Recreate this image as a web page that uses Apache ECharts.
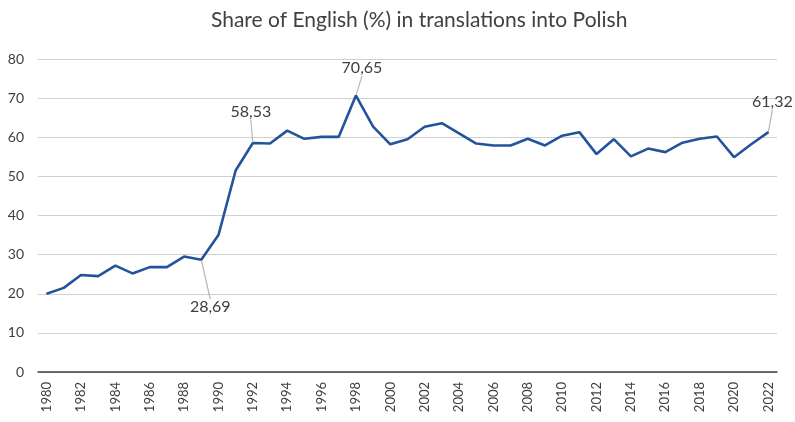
<!DOCTYPE html>
<html>
<head>
<meta charset="utf-8">
<script src="https://cdn.jsdelivr.net/npm/echarts@6/dist/echarts.min.js"></script>
<style>
  html, body { margin: 0; padding: 0; background: #fff; }
  #main { width: 795px; height: 422px; }
</style>
</head>
<body>
<div id="main"></div>
<script>
// years 1980 - 2022
const years = [];
for (let y = 1980; y <= 2022; y++) years.push(String(y));

// share of English (%)
const shares = [
  20.0, 21.5, 24.8, 24.5, 27.2, 25.2, 26.8, 26.8, 29.5, 28.69,
  35.0, 51.5, 58.53, 58.4, 61.7, 59.6, 60.1, 60.1, 70.65, 62.7,
  58.2, 59.5, 62.7, 63.6, 61.0, 58.4, 57.9, 57.9, 59.6, 57.9,
  60.4, 61.3, 55.7, 59.5, 55.1, 57.1, 56.2, 58.6, 59.6, 60.2,
  54.9, 58.2, 61.32
];

// years that carry a value label
const labelledYears = ['1989', '1992', '1998', '2022'];

const chart = echarts.init(document.getElementById('main'));

const seriesData = shares.map((v, i) => {
  if (labelledYears.indexOf(years[i]) < 0) return v;
  return {
    value: v,
    label: {
      show: true,
      position: years[i] === '1989' ? 'bottom' : 'top'
    }
  };
});

// label offsets (dx, dy) per year
const shift = {
  '1989': [9, 34],
  '1992': [-2, -18],
  '1998': [6, -14],
  '2022': [4, -17]
};

const option = {
  animation: false,
  title: {
    text: 'Share of English (%) in translations into Polish',
    left: 206,
    top: 5,
    textStyle: {
      fontFamily: 'Lato',
      fontSize: 21,
      fontWeight: 'normal',
      color: '#404040'
    }
  },
  grid: {
    left: 38,
    right: 18,
    top: 59,
    bottom: 50,
    containLabel: false
  },
  xAxis: {
    type: 'category',
    data: years,
    boundaryGap: true,
    axisLine: { lineStyle: { color: '#404040', width: 1.5 } },
    axisTick: { show: false },
    axisLabel: {
      rotate: 90,
      interval: 1,
      margin: 10,
      fontFamily: 'Lato',
      fontSize: 13,
      color: '#404040'
    }
  },
  yAxis: {
    type: 'value',
    min: 0,
    max: 80,
    interval: 10,
    axisLine: { show: false },
    axisTick: { show: false },
    splitLine: { lineStyle: { color: '#d0d0d0', width: 1.2 } },
    axisLabel: {
      margin: 14,
      fontFamily: 'Lato',
      fontSize: 14,
      color: '#404040'
    }
  },
  series: [
    {
      name: 'English',
      type: 'line',
      data: seriesData,
      symbol: 'circle',
      symbolSize: 1,
      showSymbol: true,
      lineStyle: { color: '#23539b', width: 2.6 },
      itemStyle: { color: '#23539b' },
      label: {
        fontFamily: 'Lato',
        fontSize: 16,
        color: '#404040',
        formatter: (p) => p.value.toFixed(2).replace('.', ',')
      },
      labelLine: {
        show: true,
        lineStyle: { color: '#b8b8b8', width: 1.2 }
      },
      labelLayout: (params) => {
        const s = shift[years[params.dataIndex]];
        if (!s) return {};
        return { dx: s[0], dy: s[1] };
      }
    }
  ]
};

chart.setOption(option);
</script>
</body>
</html>
